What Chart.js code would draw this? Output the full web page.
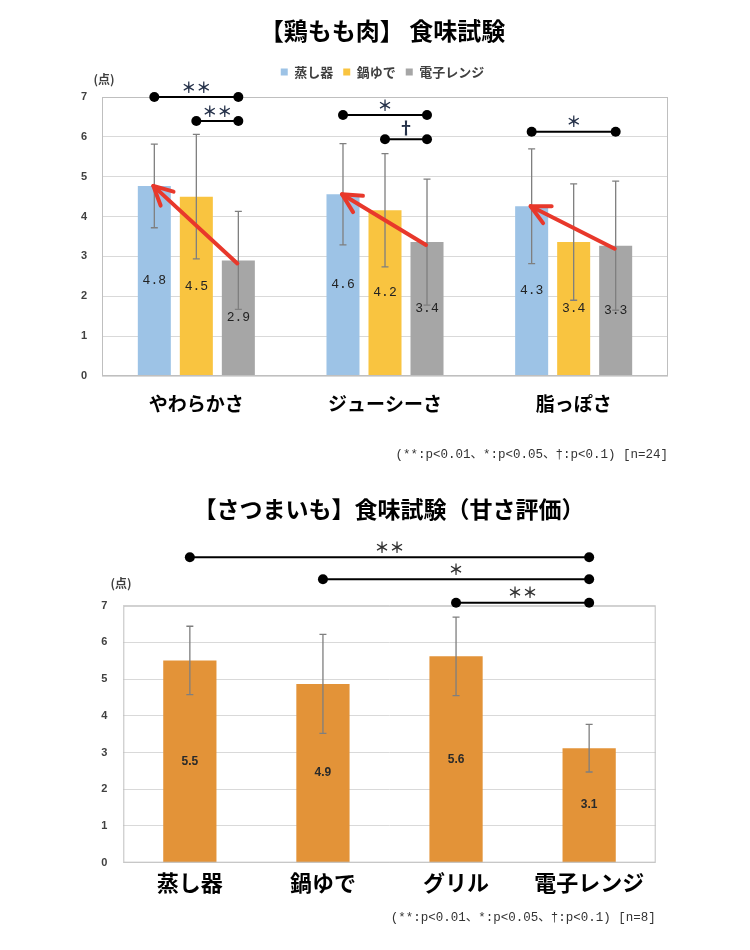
<!DOCTYPE html>
<html><head><meta charset="utf-8">
<script src="https://cdn.jsdelivr.net/npm/chart.js@4.4.1/dist/chart.umd.min.js"></script>
<style>
html,body{margin:0;padding:0;background:#fff;}
#w1{position:absolute;left:0;top:0;width:750px;height:470px;}
#w2{position:absolute;left:0;top:470px;width:750px;height:480px;}
</style></head><body>
<div id="w1"><canvas id="c1"></canvas></div>
<div id="w2"><canvas id="c2"></canvas></div>
<script>
const JP = "'Noto Sans CJK JP', 'Noto Sans', sans-serif";
const MONO = "'Liberation Mono', 'DejaVu Sans Mono', 'Noto Sans CJK JP', monospace";
const NUM = "'Liberation Sans', Arial, sans-serif";

// ---- Chart 1 data ----
const title1 = '【鶏もも肉】 食味試験';
const categories1 = ['やわらかさ', 'ジューシーさ', '脂っぽさ'];
const methods1 = ['蒸し器', '鍋ゆで', '電子レンジ'];
const steamed = [4.77, 4.56, 4.26];
const boiled = [4.50, 4.16, 3.36];
const microwaved = [2.90, 3.36, 3.27];
const steamedSD = [1.05, 1.27, 1.44];
const boiledSD = [1.56, 1.42, 1.46];
const microwavedSD = [1.23, 1.58, 1.62];
const sigCat1 = [0, 0, 1, 1, 2];
const sigFrom1 = [0, 1, 0, 1, 0];
const sigTo1 = [2, 2, 2, 2, 2];
const sigLevel1 = [7.0, 6.4, 6.55, 5.94, 6.13];
const sigMark1 = ['＊＊', '＊＊', '＊', '†', '＊'];
const arrowCats1 = [0, 1, 2];
const note1 = '(**:p<0.01、*:p<0.05、†:p<0.1) [n=24]';

// ---- Chart 2 data ----
const title2 = '【さつまいも】食味試験（甘さ評価）';
const categories2 = ['蒸し器', '鍋ゆで', 'グリル', '電子レンジ'];
const sweetness = [5.51, 4.87, 5.62, 3.12];
const sweetnessSD = [0.93, 1.35, 1.07, 0.65];
const sigFrom2 = [0, 1, 2];
const sigTo2 = [3, 3, 3];
const sigLevel2 = [8.32, 7.72, 7.08];
const sigMark2 = ['＊＊', '＊', '＊＊'];
const note2 = '(**:p<0.01、*:p<0.05、†:p<0.1) [n=8]';

const unitLabel = '(点)';
const yMin = 0, yMax = 7, yStep = 1;

function drawArrow(ctx, x1, y1, x2, y2) {
  const a = Math.atan2(y1 - y2, x1 - x2);
  const L = 21, sp = 0.47;
  ctx.beginPath(); ctx.moveTo(x1, y1); ctx.lineTo(x2, y2); ctx.stroke();
  ctx.beginPath();
  ctx.moveTo(x2 + L * Math.cos(a + sp), y2 + L * Math.sin(a + sp));
  ctx.lineTo(x2, y2);
  ctx.lineTo(x2 + L * Math.cos(a - sp), y2 + L * Math.sin(a - sp));
  ctx.stroke();
}

const annotate = {
  id: 'annotate',
  afterDatasetsDraw(chart, args, o) {
    const ctx = chart.ctx, ys = chart.scales.y, area = chart.chartArea;
    ctx.save();
    ctx.strokeStyle = '#BFBFBF'; ctx.lineWidth = 1;
    ctx.strokeRect(area.left + 0.5, area.top + 0.5, area.right - area.left - 1, area.bottom - area.top - 1);
    ctx.textAlign = 'center'; ctx.textBaseline = 'middle';
    ctx.font = o.labelFont; ctx.fillStyle = o.labelColor;
    chart.data.datasets.forEach((ds, di) => {
      chart.getDatasetMeta(di).data.forEach((bar, i) => {
        ctx.fillText(ds.data[i].toFixed(1), bar.x, (bar.y + bar.base) / 2);
      });
    });
    ctx.strokeStyle = '#7F7F7F'; ctx.lineWidth = 1.3;
    chart.data.datasets.forEach((ds, di) => {
      chart.getDatasetMeta(di).data.forEach((bar, i) => {
        const v = ds.data[i], e = ds.errors[i];
        const yt = ys.getPixelForValue(v + e), yb = ys.getPixelForValue(v - e);
        ctx.beginPath();
        ctx.moveTo(bar.x, yt); ctx.lineTo(bar.x, yb);
        ctx.moveTo(bar.x - 3.5, yt); ctx.lineTo(bar.x + 3.5, yt);
        ctx.moveTo(bar.x - 3.5, yb); ctx.lineTo(bar.x + 3.5, yb);
        ctx.stroke();
      });
    });
    if (o.arrows) {
      ctx.strokeStyle = '#E8382B'; ctx.lineWidth = 4; ctx.lineCap = 'round'; ctx.lineJoin = 'round';
      o.arrows.forEach(c => {
        const t = chart.getDatasetMeta(2).data[c], h = chart.getDatasetMeta(0).data[c];
        drawArrow(ctx, t.x - 1, t.y + 3, h.x - 1, h.y);
      });
      ctx.lineCap = 'butt';
    }
    o.brackets.forEach(b => {
      const x1 = b.x1(chart), x2 = b.x2(chart), yy = ys.getPixelForValue(b.level);
      ctx.strokeStyle = '#000'; ctx.fillStyle = '#000'; ctx.lineWidth = 2;
      ctx.beginPath(); ctx.moveTo(x1, yy); ctx.lineTo(x2, yy); ctx.stroke();
      [x1, x2].forEach(x => { ctx.beginPath(); ctx.arc(x, yy, 5, 0, Math.PI * 2); ctx.fill(); });
      ctx.fillStyle = o.markColor;
      ctx.font = b.mark === '†' ? o.daggerFont : o.markFont;
      ctx.fillText(b.mark, (x1 + x2) / 2, yy - (b.mark === '†' ? 12 : 10));
    });
    ctx.font = 'bold 12px ' + JP; ctx.fillStyle = '#404040';
    ctx.fillText(unitLabel, o.unitX, o.unitY);
    ctx.restore();
  }
};
Chart.register(annotate);

const brackets1 = sigCat1.map((c, k) => ({
  mark: sigMark1[k], level: sigLevel1[k],
  x1: ch => ch.getDatasetMeta(sigFrom1[k]).data[c].x,
  x2: ch => ch.getDatasetMeta(sigTo1[k]).data[c].x
}));
const brackets2 = sigFrom2.map((f, k) => ({
  mark: sigMark2[k], level: sigLevel2[k],
  x1: ch => ch.getDatasetMeta(0).data[f].x,
  x2: ch => ch.getDatasetMeta(0).data[sigTo2[k]].x
}));

function spacerAxis(w) {
  return {position: 'right', display: true, grid: {display: false}, border: {display: false},
          ticks: {display: false}, afterFit: s => { s.width = w; }};
}

new Chart(document.getElementById('c1'), {
  type: 'bar',
  data: {
    labels: categories1,
    datasets: [
      {label: methods1[0], data: steamed, errors: steamedSD, backgroundColor: '#9DC3E6'},
      {label: methods1[1], data: boiled, errors: boiledSD, backgroundColor: '#F9C440'},
      {label: methods1[2], data: microwaved, errors: microwavedSD, backgroundColor: '#A6A6A6'}
    ].map(d => Object.assign(d, {categoryPercentage: 0.668, barPercentage: 0.786, borderWidth: 0}))
  },
  options: {
    responsive: true, maintainAspectRatio: false, animation: false,
    layout: {padding: {left: 15, right: 0, top: 0, bottom: 0}},
    plugins: {
      title: {display: true, text: title1, color: '#000', font: {family: JP, size: 24, weight: 'bold'}, padding: {top: 16.6, bottom: 10.1}},
      legend: {display: true, position: 'top', labels: {boxWidth: 7, boxHeight: 7, padding: 10, color: '#404040', font: {family: JP, size: 13, weight: 'bold'}}},
      subtitle: {display: true, text: '', weight: 500, font: {size: 8.5, lineHeight: 1}, padding: 0},
      tooltip: {enabled: false},
      annotate: {
        labelFont: '13px ' + MONO, labelColor: '#222',
        markFont: 'bold 15px ' + JP, daggerFont: 'bold 17px ' + JP, markColor: '#26324A',
        arrows: arrowCats1, brackets: brackets1, unitX: 104, unitY: 79
      }
    },
    scales: {
      x: {
        grid: {display: false}, border: {display: false},
        ticks: {color: '#000', font: {family: JP, size: 19, weight: 'bold'}, padding: 8.6, maxRotation: 0, autoSkip: false},
        title: {display: true, text: note1, align: 'end', color: '#333', font: {family: MONO, size: 12.5}, padding: {top: 0, bottom: 7.5}},
        afterFit: s => { s.height = 94; }
      },
      y: {
        min: yMin, max: yMax,
        ticks: {stepSize: yStep, color: '#404040', font: {family: NUM, size: 11, weight: 'bold'}, padding: 15},
        grid: {color: '#D9D9D9', drawTicks: false}, border: {display: false},
        afterFit: s => { s.width = 87; }
      },
      yRight: spacerAxis(82)
    }
  }
});

new Chart(document.getElementById('c2'), {
  type: 'bar',
  data: {
    labels: categories2,
    datasets: [
      {label: '甘さ', data: sweetness, errors: sweetnessSD, backgroundColor: '#E39338', categoryPercentage: 0.8, barPercentage: 0.5, borderWidth: 0}
    ]
  },
  options: {
    responsive: true, maintainAspectRatio: false, animation: false,
    layout: {padding: {left: 28, right: 0, top: 0, bottom: 0}},
    plugins: {
      title: {display: true, text: title2, color: '#000', font: {family: JP, size: 23, weight: 'bold'}, padding: {top: 25.2, bottom: 82.9}},
      legend: {display: false},
      tooltip: {enabled: false},
      annotate: {
        labelFont: 'bold 12px ' + "'Liberation Sans Narrow', " + NUM, labelColor: '#2a2a2a',
        markFont: 'bold 15px ' + JP, daggerFont: 'bold 17px ' + JP, markColor: '#333',
        arrows: null, brackets: brackets2, unitX: 121, unitY: 113
      }
    },
    scales: {
      x: {
        grid: {display: false}, border: {display: false},
        ticks: {color: '#000', font: {family: JP, size: 22, weight: 'bold'}, padding: -1, maxRotation: 0, autoSkip: false},
        title: {display: true, text: note2, align: 'end', color: '#333', font: {family: MONO, size: 12.5}, padding: {top: 0, bottom: 24.5}},
        afterFit: s => { s.height = 87.3; }
      },
      y: {
        min: yMin, max: yMax,
        ticks: {stepSize: yStep, color: '#404040', font: {family: NUM, size: 11, weight: 'bold'}, padding: 16},
        grid: {color: '#D9D9D9', drawTicks: false}, border: {display: false},
        afterFit: s => { s.width = 95.3; }
      },
      yRight: spacerAxis(94.3)
    }
  }
});
</script>
</body></html>
